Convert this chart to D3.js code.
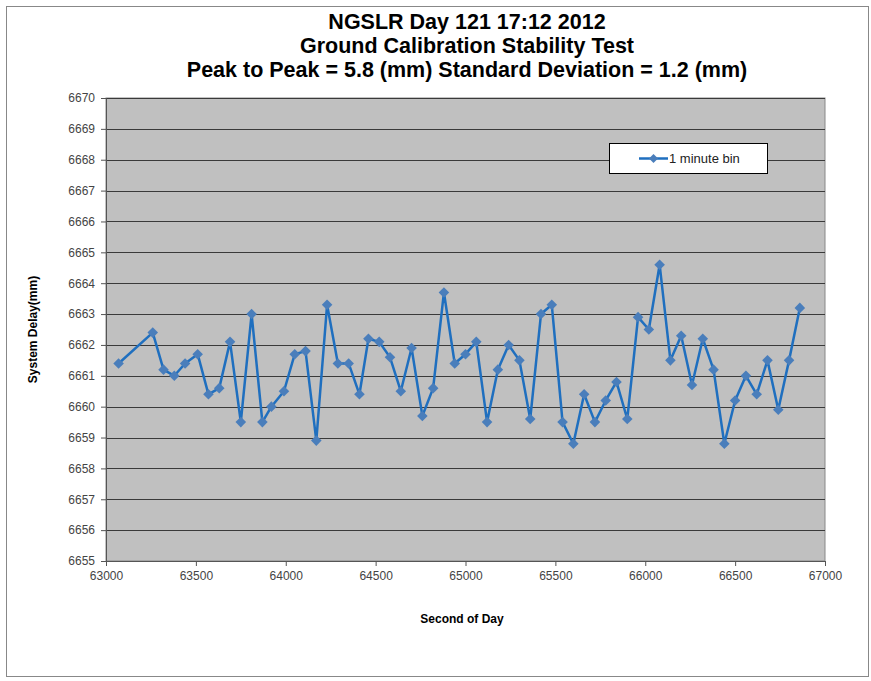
<!DOCTYPE html>
<html>
<head>
<meta charset="utf-8">
<script src="https://cdn.jsdelivr.net/npm/d3@7"></script>
<style>
  body { margin: 0; background: #fff; }
  text { font-family: "Liberation Sans Narrow", "Arial Narrow", "Liberation Sans", Arial, sans-serif; }
</style>
</head>
<body>
<div id="chart"></div>
<script>
// seconds of day
var seconds = [63070, 63260, 63320, 63380, 63440, 63510, 63570, 63630, 63690, 63750,
    63810, 63870, 63920, 63990, 64050, 64110, 64170, 64230, 64290, 64350,
    64410, 64460, 64520, 64580, 64640, 64700, 64760, 64820, 64880, 64940,
    65000, 65060, 65120, 65180, 65240, 65300, 65360, 65420, 65480, 65540,
    65600, 65660, 65720, 65780, 65840, 65900, 65960, 66020, 66080, 66140,
    66200, 66260, 66320, 66380, 66440, 66500, 66560, 66620, 66680, 66740,
    66800, 66860];
// system delay (mm)
var delays = [6661.4, 6662.4, 6661.2, 6661.0, 6661.4, 6661.7, 6660.4, 6660.6, 6662.1, 6659.5,
    6663.0, 6659.5, 6660.0, 6660.5, 6661.7, 6661.8, 6658.9, 6663.3, 6661.4, 6661.4,
    6660.4, 6662.2, 6662.1, 6661.6, 6660.5, 6661.9, 6659.7, 6660.6, 6663.7, 6661.4,
    6661.7, 6662.1, 6659.5, 6661.2, 6662.0, 6661.5, 6659.6, 6663.0, 6663.3, 6659.5,
    6658.8, 6660.4, 6659.5, 6660.2, 6660.8, 6659.6, 6662.9, 6662.5, 6664.6, 6661.5,
    6662.3, 6660.7, 6662.2, 6661.2, 6658.8, 6660.2, 6661.0, 6660.4, 6661.5, 6659.9,
    6661.5, 6663.2];
var xTicks = [63000, 63500, 64000, 64500, 65000, 65500, 66000, 66500, 67000];
var yTicks = d3.range(6655, 6671, 1);
var titleLines = ["NGSLR Day 121 17:12 2012", "Ground Calibration Stability Test",
    "Peak to Peak = 5.8 (mm) Standard Deviation = 1.2 (mm)"];
var seriesName = "1 minute bin";

var width = 871, height = 681;
var plotLeft = 106, plotRight = 825, plotTop = 98, plotBottom = 561;

var svg = d3.select("#chart").append("svg")
    .attr("width", width)
    .attr("height", height);

// outer frame
svg.append("rect")
    .attr("x", 6.5).attr("y", 6.5)
    .attr("width", 862).attr("height", 670)
    .attr("fill", "#fff")
    .attr("stroke", "#888");

var x = d3.scaleLinear().domain([63000, 67000]).range([plotLeft, plotRight]);
var y = d3.scaleLinear().domain([6655, 6670]).range([plotBottom, plotTop]);

// plot area
svg.append("rect")
    .attr("x", plotLeft).attr("y", plotTop)
    .attr("width", plotRight - plotLeft).attr("height", plotBottom - plotTop)
    .attr("fill", "#c0c0c0")
    .attr("stroke", "#888");

// gridlines
svg.append("g").selectAll("line")
    .data(yTicks.slice(1))
    .enter().append("line")
    .attr("x1", plotLeft).attr("x2", plotRight)
    .attr("y1", function(d) { return Math.round(y(d)) + 0.5; })
    .attr("y2", function(d) { return Math.round(y(d)) + 0.5; })
    .attr("stroke", "#3a3a3a")
    .attr("stroke-width", 1);

// axes
var yAxis = svg.append("g")
    .attr("transform", "translate(" + plotLeft + ",0)")
    .call(d3.axisLeft(y).tickValues(yTicks).tickSize(5).tickPadding(6).tickFormat(d3.format("d")));
var xAxis = svg.append("g")
    .attr("transform", "translate(0," + plotBottom + ")")
    .call(d3.axisBottom(x).tickValues(xTicks).tickSize(5).tickPadding(5).tickFormat(d3.format("d")));

[xAxis, yAxis].forEach(function(ax) {
    ax.select(".domain").attr("stroke", "#555");
    ax.selectAll(".tick line").attr("stroke", "#555");
    ax.selectAll(".tick text")
        .attr("fill", "#444")
        .style("font-size", "12px");
});

// titles
svg.append("g").selectAll("text")
    .data(titleLines)
    .enter().append("text")
    .attr("x", 467)
    .attr("y", function(d, i) { return 29 + i * 24; })
    .attr("text-anchor", "middle")
    .style("font-size", "21.5px")
    .style("font-weight", "bold")
    .attr("fill", "#000")
    .text(function(d) { return d; });

svg.append("text")
    .attr("x", 462).attr("y", 623)
    .attr("text-anchor", "middle")
    .style("font-size", "12px")
    .style("font-weight", "bold")
    .text("Second of Day");

svg.append("text")
    .attr("transform", "translate(37," + ((plotTop + plotBottom) / 2) + ") rotate(-90)")
    .attr("text-anchor", "middle")
    .style("font-size", "12px")
    .style("font-weight", "bold")
    .text("System Delay(mm)");

// series
var points = seconds.map(function(s, i) { return [s, delays[i]]; });

var line = d3.line()
    .x(function(d) { return x(d[0]); })
    .y(function(d) { return y(d[1]); });

svg.append("path")
    .datum(points)
    .attr("fill", "none")
    .attr("stroke", "#1f6fbf")
    .attr("stroke-width", 2.5)
    .attr("stroke-linejoin", "round")
    .attr("d", line);

// Excel style diamond = square turned 45 degrees
var diamond = d3.symbol().type(d3.symbolSquare).size(56);

svg.append("g").selectAll("path")
    .data(points)
    .enter().append("path")
    .attr("transform", function(d) { return "translate(" + x(d[0]) + "," + y(d[1]) + ") rotate(45)"; })
    .attr("d", diamond)
    .attr("fill", "#4a7ebb");

// legend
var legend = svg.append("g").attr("transform", "translate(609,143)");
legend.append("rect")
    .attr("x", 0.5).attr("y", 0.5)
    .attr("width", 158).attr("height", 30)
    .attr("fill", "#fff")
    .attr("stroke", "#000");
legend.append("line")
    .attr("x1", 30).attr("x2", 59)
    .attr("y1", 15.5).attr("y2", 15.5)
    .attr("stroke", "#1f6fbf")
    .attr("stroke-width", 2.5);
legend.append("path")
    .attr("transform", "translate(44.5,15.5) rotate(45)")
    .attr("d", d3.symbol().type(d3.symbolSquare).size(40))
    .attr("fill", "#4a7ebb");
legend.append("text")
    .attr("x", 60).attr("y", 20)
    .style("font-size", "13px")
    .attr("fill", "#222")
    .text(seriesName);
</script>
</body>
</html>
